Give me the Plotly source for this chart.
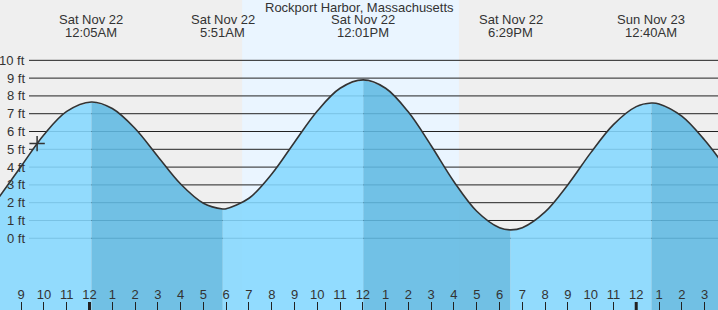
import plotly.graph_objects as go

# ---------------- data ----------------
times = [
    "2025-11-21 20:00", "2025-11-21 21:00", "2025-11-21 22:00", "2025-11-21 23:00",
    "2025-11-22 00:05",
    "2025-11-22 01:00", "2025-11-22 02:00", "2025-11-22 03:00", "2025-11-22 04:00",
    "2025-11-22 05:00", "2025-11-22 05:51",
    "2025-11-22 06:00", "2025-11-22 07:00", "2025-11-22 08:00", "2025-11-22 09:00",
    "2025-11-22 10:00", "2025-11-22 11:00", "2025-11-22 12:01",
    "2025-11-22 13:00", "2025-11-22 14:00", "2025-11-22 15:00", "2025-11-22 16:00",
    "2025-11-22 17:00", "2025-11-22 18:00", "2025-11-22 18:29",
    "2025-11-22 19:00", "2025-11-22 20:00", "2025-11-22 21:00", "2025-11-22 22:00",
    "2025-11-22 23:00", "2025-11-23 00:00", "2025-11-23 00:40",
    "2025-11-23 01:00", "2025-11-23 02:00", "2025-11-23 03:00", "2025-11-23 04:00",
]
heights = [
    2.26, 4.05, 5.82, 7.13,
    7.66,
    7.29, 6.17, 4.60, 3.05,
    1.97, 1.65,
    1.66, 2.25, 3.61, 5.40,
    7.15, 8.43, 8.90,
    8.43, 7.09, 5.20, 3.18,
    1.52, 0.59, 0.47,
    0.59, 1.48, 3.01, 4.80,
    6.39, 7.40, 7.60,
    7.55, 6.86, 5.52, 3.85,
]

ext_times = ["2025-11-22 00:05", "2025-11-22 05:51", "2025-11-22 12:01",
             "2025-11-22 18:29", "2025-11-23 00:40"]
ext_days = ["Sat Nov 22", "Sat Nov 22", "Sat Nov 22", "Sat Nov 22", "Sun Nov 23"]
ext_clock = ["12:05AM", "5:51AM", "12:01PM", "6:29PM", "12:40AM"]

now_time = ["2025-11-21 21:42"]
now_height = [5.32]

sunrise = "2025-11-22 06:42"
sunset = "2025-11-22 16:13"

midnights = ["2025-11-22 00:00", "2025-11-23 00:00"]

y_ticks = [0, 1, 2, 3, 4, 5, 6, 7, 8, 9, 10]
title_text = "Rockport Harbor, Massachusetts"

# ---------------- styling ----------------
W, H = 718, 310
FONT = "Liberation Sans, Arial, sans-serif"
TXT = "#333333"
BG = "#efefef"
DAY = "#eaf5ff"
LIGHT = "rgba(133,216,255,0.88)"
DARK = "rgba(96,186,226,0.88)"
X_RANGE = ["2025-11-21 20:04:15", "2025-11-23 03:35:24"]
Y_RANGE = [-4.03, 13.39]
BASE = -5

fig = go.Figure()

# fills split at extremes: rising = light, falling = dark
idx = [times.index(t) for t in ext_times]
bounds = [0] + idx + [len(times) - 1]
for a, b in zip(bounds[:-1], bounds[1:]):
    sx = times[a:b + 1]
    sy = heights[a:b + 1]
    col = LIGHT if heights[b] > heights[a] else DARK
    fig.add_trace(go.Scatter(x=sx, y=[BASE] * len(sx), mode="lines",
                             line=dict(width=0), hoverinfo="skip", showlegend=False))
    fig.add_trace(go.Scatter(x=sx, y=sy, mode="lines", fill="tonexty",
                             fillcolor=col, line=dict(width=0, shape="spline"),
                             hoverinfo="skip", showlegend=False))

# tide curve
fig.add_trace(go.Scatter(x=times, y=heights, mode="lines",
                         line=dict(color="#333333", width=1.6, shape="spline"),
                         showlegend=False))

# current-time marker
fig.add_trace(go.Scatter(x=now_time, y=now_height, mode="markers",
                         marker=dict(symbol="cross-thin", size=11,
                                     line=dict(color="#333333", width=1.5)),
                         showlegend=False))

shapes = []
# daytime background
shapes.append(dict(type="rect", xref="x", yref="paper", x0=sunrise, x1=sunset,
                   y0=0, y1=1, fillcolor=DAY, line=dict(width=0), layer="below"))
# horizontal grid lines (start after labels)
for v in y_ticks:
    shapes.append(dict(type="line", xref="paper", yref="y", x0=29 / W, x1=1,
                       y0=v, y1=v, line=dict(color="#222222", width=1),
                       layer="between"))
# bold midnight ticks
for m in midnights:
    shapes.append(dict(type="line", xref="x", yref="paper", x0=m, x1=m,
                       y0=0, y1=8 / H, line=dict(color="#222222", width=3),
                       layer="above"))

annotations = []
for v in y_ticks:
    annotations.append(dict(xref="paper", yref="y", x=27 / W, y=v, xanchor="right",
                            yanchor="middle", text=f"{v} ft", showarrow=False,
                            font=dict(family=FONT, size=13, color=TXT)))
for t, d, c in zip(ext_times, ext_days, ext_clock):
    annotations.append(dict(xref="x", yref="paper", x=t, y=1 - 20 / H,
                            xanchor="center", yanchor="middle", text=d,
                            showarrow=False, font=dict(family=FONT, size=13, color=TXT)))
    annotations.append(dict(xref="x", yref="paper", x=t, y=1 - 32.5 / H,
                            xanchor="center", yanchor="middle", text=c,
                            showarrow=False, font=dict(family=FONT, size=13, color=TXT)))
annotations.append(dict(xref="paper", yref="paper", x=0.5, y=1 - 7.5 / H,
                        xanchor="center", yanchor="middle", text=title_text,
                        showarrow=False, font=dict(family=FONT, size=13, color=TXT)))

fig.update_layout(
    width=W, height=H, margin=dict(l=0, r=0, t=0, b=0),
    paper_bgcolor=BG, plot_bgcolor=BG,
    shapes=shapes, annotations=annotations,
    font=dict(family=FONT, size=13, color=TXT),
    xaxis=dict(type="date", range=X_RANGE, showgrid=False, zeroline=False,
               tickformat="%-I", dtick=3600000, tick0="2025-11-22 00:00",
               ticks="inside", ticklen=8, tickwidth=1, tickcolor="#222222",
               ticklabelposition="inside", showline=False,
               tickfont=dict(family=FONT, size=13, color=TXT)),
    yaxis=dict(range=Y_RANGE, showgrid=False, zeroline=False,
               showticklabels=False, ticks=""),
)

fig.write_html("out.html")
